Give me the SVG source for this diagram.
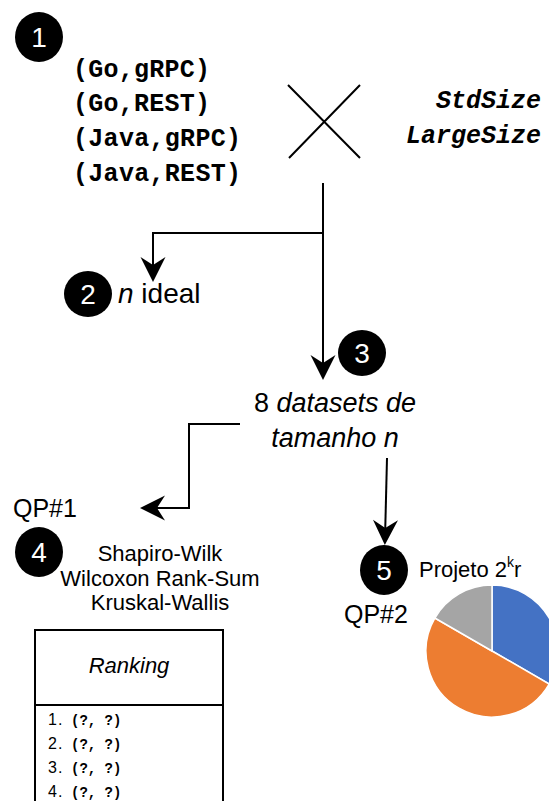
<svg xmlns="http://www.w3.org/2000/svg" width="549" height="801" viewBox="0 0 549 801">
<style>
.badge{fill:#000}
.num{font-family:"Liberation Sans",Arial,sans-serif;font-size:28px;fill:#fff;text-anchor:middle}
.mono{font-family:"Liberation Mono","Courier New",monospace;font-weight:bold;fill:#000}
.big{font-size:25px}
.small{font-size:14px}
.row{font-size:16px;letter-spacing:1px}
.sans{font-family:"Liberation Sans",Arial,sans-serif;fill:#000}
.it{font-style:italic}
.conn{fill:none;stroke:#000;stroke-width:2}
</style>
<defs>
<marker id="arr" markerUnits="userSpaceOnUse" viewBox="-36 -14 40 28" refX="-10" refY="0" markerWidth="40" markerHeight="28" orient="auto">
<path d="M0,0 L-25,-12.5 L-17,0 L-25,12.5 Z" fill="#000"/>
</marker>
</defs>
<rect width="549" height="801" fill="#fff"/>

<g id="connectors">
<path class="conn" d="M288,85 L360,158 M360,85 L289,158"/>
<path class="conn" d="M323,183 L323,370" marker-end="url(#arr)"/>
<path class="conn" d="M323,233 L153,233 L153,272" marker-end="url(#arr)"/>
<path class="conn" d="M240,424 L189,424 L189,508 L150,508" marker-end="url(#arr)"/>
<path class="conn" d="M387,458 L385.1,535" marker-end="url(#arr)"/>
</g>

<g id="node1">
<ellipse class="badge" cx="39" cy="37" rx="24" ry="25"/>
<text class="num" x="39" y="47">1</text>
</g>

<g id="combos">
<text class="mono big" x="73" y="77" textLength="137">(Go,gRPC)</text>
<text class="mono big" x="73" y="111" textLength="137">(Go,REST)</text>
<text class="mono big" x="73" y="146" textLength="168">(Java,gRPC)</text>
<text class="mono big" x="73" y="181" textLength="168">(Java,REST)</text>
</g>

<g id="sizes">
<text class="mono big it" x="541" y="108" text-anchor="end">StdSize</text>
<text class="mono big it" x="541" y="143" text-anchor="end">LargeSize</text>
</g>

<g id="node2">
<ellipse class="badge" cx="88" cy="294" rx="24" ry="23"/>
<text class="num" x="88" y="304">2</text>
<text class="sans" x="118" y="303" style="font-size:28px"><tspan class="it">n</tspan> ideal</text>
</g>

<g id="node3">
<ellipse class="badge" cx="362" cy="353" rx="24" ry="23"/>
<text class="num" x="362" y="363">3</text>
<text class="sans" x="335" y="412" style="font-size:27px" text-anchor="middle">8 <tspan class="it">datasets de</tspan></text>
<text class="sans it" x="335" y="447" style="font-size:27px" text-anchor="middle">tamanho n</text>
</g>

<g id="node4">
<text class="sans" x="13" y="517" style="font-size:25px">QP#1</text>
<ellipse class="badge" cx="39" cy="552" rx="24" ry="25"/>
<text class="num" x="39" y="562">4</text>
<text class="sans" x="160" y="561" style="font-size:22px" text-anchor="middle">Shapiro-Wilk</text>
<text class="sans" x="160" y="586" style="font-size:22px" text-anchor="middle">Wilcoxon Rank-Sum</text>
<text class="sans" x="160" y="610" style="font-size:22px" text-anchor="middle">Kruskal-Wallis</text>
</g>

<g id="ranking">
<rect x="35" y="630" width="188" height="190" fill="#fff" stroke="#000" stroke-width="2"/>
<line x1="35" y1="705" x2="223" y2="705" stroke="#000" stroke-width="2"/>
<text class="sans it" x="129" y="673" style="font-size:22px" text-anchor="middle">Ranking</text>
<text class="sans row" x="48" y="725">1.</text>
<text class="mono small" x="71" y="725">(?, ?)</text>
<text class="sans row" x="48" y="749">2.</text>
<text class="mono small" x="71" y="749">(?, ?)</text>
<text class="sans row" x="48" y="773">3.</text>
<text class="mono small" x="71" y="773">(?, ?)</text>
<text class="sans row" x="48" y="797">4.</text>
<text class="mono small" x="71" y="797">(?, ?)</text>
</g>

<g id="node5">
<ellipse class="badge" cx="384" cy="570" rx="24" ry="25"/>
<text class="num" x="384" y="580">5</text>
<text class="sans" x="344" y="623" style="font-size:25px">QP#2</text>
<text class="sans" x="419" y="577" style="font-size:22px">Projeto 2<tspan style="font-size:14px" dy="-10">k</tspan><tspan dy="10">r</tspan></text>
</g>

<g id="pie" stroke="#fff" stroke-width="1.5" stroke-linejoin="round">
<path d="M492,651 L492,585 A66,66 0 0,1 549.16,684 Z" fill="#4472C4"/>
<path d="M492,651 L549.16,684 A66,66 0 1,1 434.84,618 Z" fill="#ED7D31"/>
<path d="M492,651 L434.84,618 A66,66 0 0,1 492,585 Z" fill="#A5A5A5"/>
</g>
</svg>
